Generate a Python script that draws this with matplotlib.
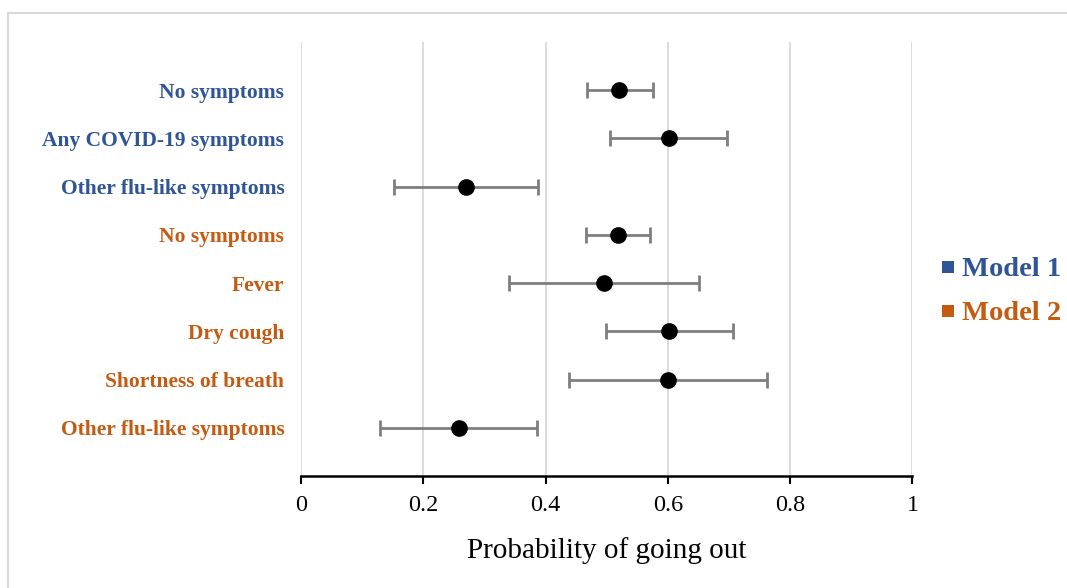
import matplotlib
matplotlib.use("Agg")
import matplotlib.pyplot as plt
from matplotlib.lines import Line2D
from matplotlib.patches import Rectangle

plt.rcParams['font.family'] = ['Liberation Serif', 'DejaVu Serif']

labels = ["No symptoms", "Any COVID-19 symptoms", "Other flu-like symptoms",
          "No symptoms", "Fever", "Dry cough", "Shortness of breath",
          "Other flu-like symptoms"]
models = [1, 1, 1, 2, 2, 2, 2, 2]
estimate = [0.520, 0.601, 0.270, 0.519, 0.496, 0.602, 0.600, 0.259]
lower = [0.467, 0.505, 0.152, 0.466, 0.340, 0.498, 0.438, 0.130]
upper = [0.575, 0.696, 0.388, 0.571, 0.651, 0.707, 0.762, 0.386]
xticks = [0, 0.2, 0.4, 0.6, 0.8, 1]
xticklabels = ["0", "0.2", "0.4", "0.6", "0.8", "1"]
model_names = ["Model 1", "Model 2"]
model_colors = {1: "#2F5597", 2: "#C55A11"}

W, H = 1067, 588
fig = plt.figure(figsize=(10.67, 5.88), dpi=100)
ax = fig.add_axes([301/W, 1-476/H, (912.5-301)/W, (476-42)/H])

ypos = list(range(1, len(labels)+1))
xerr = [[e - l for e, l in zip(estimate, lower)], [u - e for e, u in zip(estimate, upper)]]
ax.errorbar(estimate, ypos, xerr=xerr, fmt='o', color='black', ms=11,
            ecolor='#7F7F7F', elinewidth=2, capsize=6, capthick=2, zorder=3)

ax.set_xlim(0, 1)
ax.set_ylim(9, 0)
ax.set_xticks(xticks)
ax.set_xticklabels(xticklabels, fontsize=17.5)
ax.set_yticks(ypos)
ax.set_yticklabels(labels, fontsize=15.5, fontweight='bold')
for t, m in zip(ax.get_yticklabels(), models):
    t.set_color(model_colors[m])
ax.tick_params(axis='y', length=0, pad=12)
ax.tick_params(axis='x', length=6, width=1.5, direction='out', pad=8)
ax.grid(axis='x', color='#D9D9D9', linewidth=1.3, zorder=0)
ax.set_axisbelow(True)
for s in ['top', 'right', 'left']:
    ax.spines[s].set_visible(False)
ax.spines['bottom'].set_linewidth(1.8)
ax.set_xlabel("Probability of going out", fontsize=21, labelpad=15)

# legend (manual placement)
leg_y = [267, 311]
for i, (name, yy) in enumerate(zip(model_names, leg_y)):
    c = model_colors[i+1]
    fig.add_artist(Rectangle((942/W, 1-(yy+6)/H), 12/W, 12/H, transform=fig.transFigure,
                             facecolor=c, edgecolor='none'))
    fig.text(962/W, 1-yy/H, name, color=c, fontsize=20.5, fontweight='bold',
             ha='left', va='center_baseline')

# outer chart-area border (top and left edges visible)
fig.add_artist(Line2D([8/W, 8/W], [0, 1-13/H], transform=fig.transFigure,
                      color='#D9D9D9', linewidth=1.5))
fig.add_artist(Line2D([8/W, 1], [1-13/H, 1-13/H], transform=fig.transFigure,
                      color='#D9D9D9', linewidth=1.5))

fig.savefig("out.png", dpi=100, facecolor='white')
